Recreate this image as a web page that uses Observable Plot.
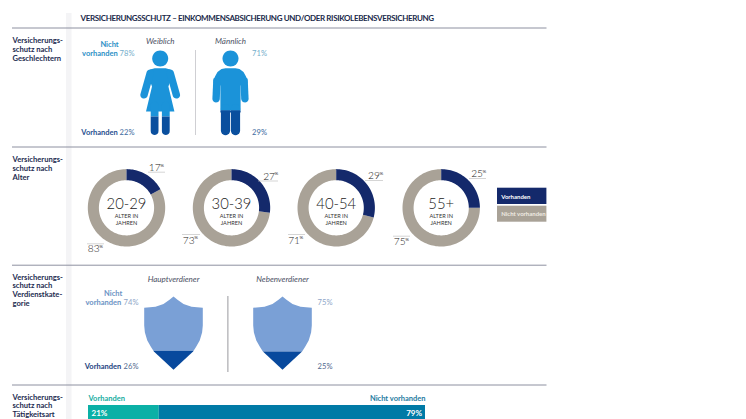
<!DOCTYPE html>
<html><head><meta charset="utf-8">
<script src="https://cdn.jsdelivr.net/npm/d3@7"></script>
<script src="https://cdn.jsdelivr.net/npm/@observablehq/plot@0.6"></script>
<style>html,body{margin:0;padding:0;background:#fff;overflow:hidden}svg{display:block}</style>
</head><body><div id="chart"></div>
<script>
// ---- data ----
const title = "VERSICHERUNGSSCHUTZ – EINKOMMENSABSICHERUNG UND/ODER RISIKOLEBENSVERSICHERUNG";
const genderNames = ["Weiblich", "Männlich"];
const genderHas = [22, 29];
const genderNot = [78, 71];
const ageGroups = ["20-29", "30-39", "40-54", "55+"];
const ageHas = [17, 27, 29, 25];
const ageNot = [83, 73, 71, 75];
const earnerNames = ["Hauptverdiener", "Nebenverdiener"];
const earnerHas = [26, 25];
const earnerNot = [74, 75];
const jobHas = 21;
const jobNot = 79;
const sectionLabels = [
  ["Versicherungs-", "schutz nach", "Geschlechtern"],
  ["Versicherungs-", "schutz nach", "Alter"],
  ["Versicherungs-", "schutz nach", "Verdienstkate-", "gorie"],
  ["Versicherungs-", "schutz nach", "Tätigkeitsart"]
];

// ---- layout ----
const FONT = "Lato";
const sectionTops = [40.2, 159, 276.7, 396.7];
const ruleYs = [27.5, 146.5, 264.7, 384.5];
const genderX = [159.7, 230];
const ageX = [126, 231, 335.7, 440.7];
const ageY = 207.3;
const earnerX = [173, 282];

const C = {navy:"#14296b", grey:"#a9a297", blue:"#1b93d9", blueD:"#0a4f9e",
  shL:"#7aa0d6", shD:"#08499d", ink:"#1c2b4f"};

// geometry helpers
function clip(poly, yT, keepBelow) {
  const inside = p => keepBelow ? p[1] >= yT : p[1] <= yT, out = [];
  poly.forEach((p, i) => {
    const q = poly[(i + 1) % poly.length];
    if (inside(p)) out.push(p);
    if (inside(p) !== inside(q)) {
      const t = (yT - p[1]) / (q[1] - p[1]);
      out.push([p[0] + t * (q[0] - p[0]), yT]);
    }
  });
  return out;
}
function capsule(x1, y1, x2, y2, r) {
  const a = Math.atan2(y2 - y1, x2 - x1), pts = [];
  for (let i = 0; i <= 10; i++) { const t = a - Math.PI/2 + Math.PI*i/10; pts.push([x2 + r*Math.cos(t), y2 + r*Math.sin(t)]); }
  for (let i = 0; i <= 10; i++) { const t = a + Math.PI/2 + Math.PI*i/10; pts.push([x1 + r*Math.cos(t), y1 + r*Math.sin(t)]); }
  return pts;
}
function disc(x, y, r) { return d3.range(32).map(i => [x + r*Math.cos(i*Math.PI/16), y + r*Math.sin(i*Math.PI/16)]); }
const mirror = s => s.map(p => [-p[0], p[1]]);
const womanShape = [
  disc(0, 58, 8),
  [[-5.5,67.8],[5.5,67.8],[10,69],[12.5,72],[11.5,77],[8.2,86],[14.2,111],[-14.2,111],[-8.2,86],[-11.5,77],[-12.5,72],[-10,69]],
  capsule(-10,72.6,-16.2,94.4,3.7), capsule(10,72.6,16.2,94.4,3.7),
  capsule(-5.6,105,-5.6,130.6,3.9), capsule(5.6,105,5.6,130.6,3.9)
];
const manShape = [
  disc(0, 58, 8),
  [[-5,67.8],[5,67.8],[9,68.6],[13,71.5],[15.5,76],[17.2,82],[10.1,85],[10.1,112],[-10.1,112],[-10.1,85],[-17.2,82],[-15.5,76],[-13,71.5],[-9,68.6]],
  capsule(-13.6,80,-14.4,98.3,3.7), capsule(13.6,80,14.4,98.3,3.7),
  capsule(-5,108,-5,130.1,4.6), capsule(5,108,5,130.1,4.6)
];
const PERSON_TOP = 50, PERSON_BOTTOM = 134.6;
const sh = [[0,296],[-4,299.2],[-10,303.4],[-18,306.3],[-29.3,307.3],[-29.3,325],[-28.6,332],[-26.2,340],[-22.5,346.5],[-19.6,351],[0,369.3]];
const shieldOutline = sh.concat(mirror(sh.slice(1,-1)).reverse());
const SHIELD_TOP = 296, SHIELD_BOTTOM = 369.3;

// polygon rows
const polys = {};
const add = (key, pts, dx = 0) => {
  const id = (polys[key] ??= []).length;
  polys[key].push(pts.map(p => ({x: p[0] + dx, y: p[1], id})));
};
genderHas.forEach((v, i) => {
  const yT = PERSON_BOTTOM - (PERSON_BOTTOM - PERSON_TOP) * v / 100;
  (i ? manShape : womanShape).forEach(s => {
    const top = clip(s, yT, false), low = clip(s, yT, true);
    if (top.length) add("personL", top, genderX[i]);
    if (low.length) add("personD", low, genderX[i]);
  });
});
earnerHas.forEach((v, i) => {
  const yT = SHIELD_BOTTOM - (SHIELD_BOTTOM - SHIELD_TOP) * v / 100;
  add("shieldL", clip(shieldOutline, yT, false), earnerX[i]);
  add("shieldD", clip(shieldOutline, yT, true), earnerX[i]);
});
const R0 = 27.6, R1 = 38.7;
function sector(cx, cy, v0, v1) {
  const n = Math.max(4, Math.round((v1 - v0) * 1.5));
  const ang = d3.range(n + 1).map(i => (v0 + (v1 - v0) * i / n) / 100 * 2 * Math.PI);
  return [...ang.map(a => [cx + R1*Math.sin(a), cy - R1*Math.cos(a)]),
          ...ang.reverse().map(a => [cx + R0*Math.sin(a), cy - R0*Math.cos(a)])];
}
ageHas.forEach((v, i) => {
  const tot = v + ageNot[i], a = v / tot * 100;
  add("ringHas", sector(ageX[i], ageY, 0, a));
  add("ringNot", sector(ageX[i], ageY, a, 100));
});
const shape = (key, fill, extra = {}) =>
  Plot.line(polys[key].flat(), {x:"x", y:"y", z:"id", fill, stroke:"none", curve:"linear", ...extra});

// text rows
const txt = (rows, o = {}) => Plot.text(rows, {x:"x", y:"y", text:"t", fontFamily:FONT, lineAnchor:"middle", textAnchor:"start", ...o});
const rules = ruleYs.map(y => ({x1:12, x2:546.5, y}));
const barL = 88, barW = 337;
const barX = v => barL + barW * v / (jobHas + jobNot);

// percent labels around the rings
const agePos = [
  {hasX:148.3, hasY:167.2, hasR:[148,165,171.7], notX:87.3, notY:248.7, notR:[87,104,243.3]},
  {hasX:262.7, hasY:175.8, hasR:[258,278,180.5], notX:182.3, notY:239.8, notR:[182,200,234]},
  {hasX:367.5, hasY:175.3, hasR:[365,383,180], notX:287.7, notY:239.8, notR:[288,305,234]},
  {hasX:470.7, hasY:173.2, hasR:[469,486,178], notX:393.3, notY:241.5, notR:[393,410,235.7]}
];
const agePct = ageHas.flatMap((v, i) => [
  {t:String(v), x:agePos[i].hasX, y:agePos[i].hasY, r:agePos[i].hasR},
  {t:String(ageNot[i]), x:agePos[i].notX, y:agePos[i].notY, r:agePos[i].notR}
]);

const marks = [
  Plot.rect([{}], {x1:()=>66, x2:()=>71.5, y1:()=>13, y2:()=>419, fill:"#f4f4f6"}),
  Plot.ruleY(rules, {x1:"x1", x2:"x2", y:"y", stroke:"#8d90a0", strokeWidth:1}),
  txt([{t:title, x:80, y:17.8}], {fontSize:8, fontWeight:700, fill:"#20294a"}),
  txt(sectionLabels.flatMap((ls, i) => ls.map((t, k) => ({t, x:12, y:sectionTops[i] + k*8.8}))),
      {fontSize:7.6, fontWeight:700, fill:C.ink}),

  // gender
  Plot.ruleX([195], {y1:50, y2:135, stroke:"#cfcfd3", strokeWidth:1}),
  txt(genderNames.map((t, i) => ({t, x:genderX[i], y:40.7})), {textAnchor:"middle", fontSize:8, fontStyle:"italic", fill:"#4a4f63"}),
  shape("personL", C.blue), shape("personD", C.blueD),
  txt([{t:"Nicht", x:109, y:44.3}], {textAnchor:"middle", fontSize:7.5, fontWeight:700, fill:"#2b90c6"}),
  txt([{t:"vorhanden", x:117.3, y:53.3}], {textAnchor:"end", fontSize:7.5, fontWeight:700, fill:"#2b90c6"}),
  txt([{t:"Vorhanden", x:117.3, y:132.4}], {textAnchor:"end", fontSize:7.5, fontWeight:700, fill:"#1f4f8f"}),
  txt([{t:genderNot[0]+"%", x:134, y:53.3},{t:genderNot[1]+"%", x:266.5, y:53.3}], {textAnchor:"end", fontSize:7.6, fill:"#74aecb"}),
  txt([{t:genderHas[0]+"%", x:134, y:132.4},{t:genderHas[1]+"%", x:266.5, y:132.4}], {textAnchor:"end", fontSize:7.6, fill:"#3d6a9e"}),

  // age
  shape("ringNot", C.grey), shape("ringHas", C.navy),
  txt(ageGroups.map((t, i) => ({t, x:ageX[i], y:203.6})), {textAnchor:"middle", fontSize:14.8, fontWeight:300, fill:"#222"}),
  txt(ageGroups.map((t, i) => ({t:"ALTER IN", x:ageX[i], y:215.7})), {textAnchor:"middle", fontSize:5.6, fill:"#333"}),
  txt(ageGroups.map((t, i) => ({t:"JAHREN", x:ageX[i], y:222.8})), {textAnchor:"middle", fontSize:5.6, fill:"#333"}),
  Plot.ruleY(agePct, {x1:d=>d.r[0], x2:d=>d.r[1], y:d=>d.r[2], stroke:"#b9b9b9", strokeWidth:0.6}),
  txt(agePct, {fontSize:10.2, fontWeight:300, fill:"#222"}),
  txt(agePct.map(d => ({t:"%", x:d.x + 11.4, y:d.y - 2.5})), {fontSize:4.6, fill:"#333"}),
  Plot.rect([{k:0},{k:1}], {x1:()=>497, x2:()=>546.4, y1:d=>d.k?205.7:187.7, y2:d=>d.k?221.7:204, fill:d=>d.k?C.grey:C.navy}),
  txt([{t:"Vorhanden", x:500.7, y:196.4}], {fontSize:6, fontWeight:700, fill:"#fff"}),
  txt([{t:"Nicht vorhanden", x:500.7, y:213.4}], {fontSize:6, fontWeight:700, fill:"#efebe2"}),

  // earners
  Plot.ruleX([227.4], {y1:296, y2:372, stroke:"#9a9a9e", strokeWidth:1}),
  txt(earnerNames.map((t, i) => ({t, x:earnerX[i], y:279.4})), {textAnchor:"middle", fontSize:8, fontStyle:"italic", fill:"#4a4f63"}),
  shape("shieldL", C.shL), shape("shieldD", C.shD),
  txt([{t:"Nicht", x:112.7, y:293.2}], {textAnchor:"middle", fontSize:7.5, fontWeight:700, fill:"#6c93c4"}),
  txt([{t:"vorhanden", x:120.7, y:302}], {textAnchor:"end", fontSize:7.5, fontWeight:700, fill:"#6c93c4"}),
  txt([{t:"Vorhanden", x:120.7, y:366.4}], {textAnchor:"end", fontSize:7.5, fontWeight:700, fill:"#1d3f80"}),
  txt([{t:earnerNot[0]+"%", x:138, y:302},{t:earnerNot[1]+"%", x:332, y:302}], {textAnchor:"end", fontSize:7.6, fill:"#8ea6c8"}),
  txt([{t:earnerHas[0]+"%", x:138, y:366.4},{t:earnerHas[1]+"%", x:332, y:366.4}], {textAnchor:"end", fontSize:7.6, fill:"#51688e"}),

  // job type
  txt([{t:"Vorhanden", x:barL, y:398.4}], {fontSize:7.5, fontWeight:700, fill:"#17ad9f"}),
  txt([{t:"Nicht vorhanden", x:425, y:398.4}], {textAnchor:"end", fontSize:7.5, fontWeight:700, fill:"#1f7c9f"}),
  Plot.rect([{v0:0, v1:jobHas, c:"#0bb0a6"},{v0:jobHas, v1:jobHas+jobNot, c:"#007aa6"}],
    {x1:d=>barX(d.v0), x2:d=>barX(d.v1), y1:()=>405, y2:()=>419, fill:d=>d.c}),
  txt([{t:jobHas+"%", x:91, y:412.8}], {fontSize:8, fontWeight:700, fill:"#fff"}),
  txt([{t:jobNot+"%", x:421.5, y:412.8}], {textAnchor:"end", fontSize:8, fontWeight:700, fill:"#fff"})
];

const svg = Plot.plot({
  width:746, height:419, margin:0,
  x:{domain:[0,746], range:[0,746], axis:null},
  y:{domain:[0,419], range:[0,419], axis:null},
  style:{background:"#fff", fontFamily:FONT},
  marks
});
document.getElementById("chart").append(svg);
// tighten the heading to the reference's condensed setting
svg.querySelectorAll("text").forEach(t => { if (t.textContent === title) t.style.letterSpacing = "-0.36px"; });
</script></body></html>
